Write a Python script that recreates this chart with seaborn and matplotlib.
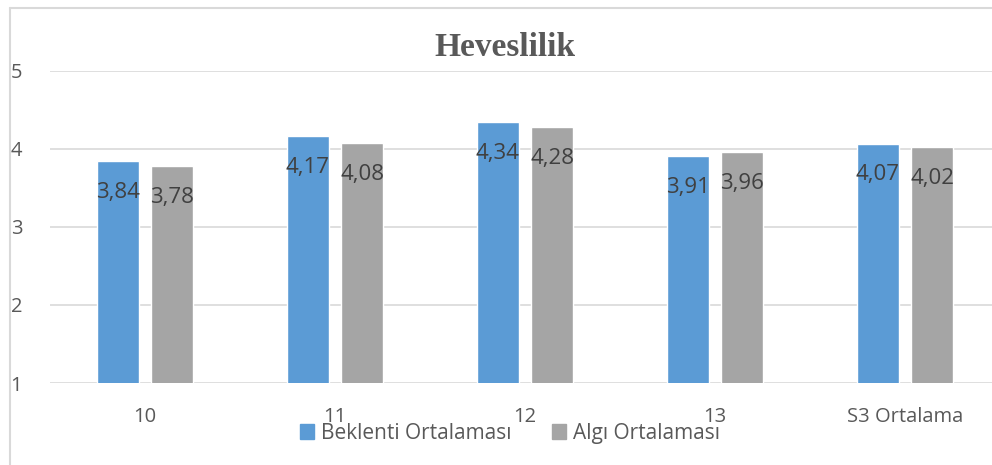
import matplotlib
matplotlib.use("Agg")
import matplotlib.pyplot as plt
import seaborn as sns
import pandas as pd
from matplotlib.lines import Line2D
from matplotlib.patches import Patch

categories = ["10", "11", "12", "13", "S3 Ortalama"]
beklenti = [3.84, 4.17, 4.34, 3.91, 4.07]
algi = [3.78, 4.08, 4.28, 3.96, 4.02]
series_names = ["Beklenti Ortalaması", "Algı Ortalaması"]
labels_b = ["3,84", "4,17", "4,34", "3,91", "4,07"]
labels_a = ["3,78", "4,08", "4,28", "3,96", "4,02"]

df = pd.DataFrame({
    "cat": categories * 2,
    "val": beklenti + algi,
    "series": [series_names[0]] * 5 + [series_names[1]] * 5,
})

sns.set_theme(style="white")
plt.rcParams["font.family"] = ["Open Sans", "DejaVu Sans"]

W, H = 992, 465
fig = plt.figure(figsize=(W / 100, H / 100), dpi=100)
ax = fig.add_axes([50 / W, 82 / H, 950 / W, 312 / H])

colors = ["#5b9bd5", "#a5a5a5"]
sns.barplot(data=df, x="cat", y="val", hue="series", palette=colors,
            width=0.57, gap=0.22, ax=ax, legend=False, saturation=1)

ax.set_ylim(1, 5)
ax.set_xlim(-0.5, 4.5)
ax.set_yticks([1, 2, 3, 4, 5])
ax.set_yticklabels(["1", "2", "3", "4", "5"])
for y in [1, 2, 3, 4, 5]:
    ax.axhline(y, color="#d9d9d9", lw=1.2, zorder=0)
for s in ax.spines.values():
    s.set_visible(False)
ax.tick_params(axis="both", length=0, labelsize=14.5, labelcolor="#595959")
ax.tick_params(axis="y", pad=20)
ax.tick_params(axis="x", pad=17)
ax.set_xlabel("")
ax.set_ylabel("")

# data labels
for cont, labs in zip(ax.containers, [labels_b, labels_a]):
    for bar, lab in zip(cont, labs):
        ax.annotate(lab, (bar.get_x() + bar.get_width() / 2, bar.get_height()),
                    xytext=(0, -15), textcoords="offset points",
                    ha="center", va="top", fontsize=16, color="#404040")

fig.text(505 / W, 1 - 47 / H, "Heveslilik", ha="center", va="center",
         fontsize=24, fontweight="bold", color="#595959",
         family="Liberation Serif")

handles = [Patch(color=c) for c in colors]
fig.legend(handles, series_names, loc="center", bbox_to_anchor=(510 / W, 1 - 433 / H),
           ncol=2, frameon=False, fontsize=15, labelcolor="#595959",
           handlelength=0.7, handleheight=0.7, handletextpad=0.35, columnspacing=1.9)

fig.add_artist(Line2D([9.5 / W, 9.5 / W], [0, 1 - 8.5 / H], color="#d9d9d9", lw=1.5,
                      transform=fig.transFigure))
fig.add_artist(Line2D([9.5 / W, 1], [1 - 8.5 / H, 1 - 8.5 / H], color="#d9d9d9", lw=1.5,
                      transform=fig.transFigure))

fig.savefig("out.png", dpi=100)
